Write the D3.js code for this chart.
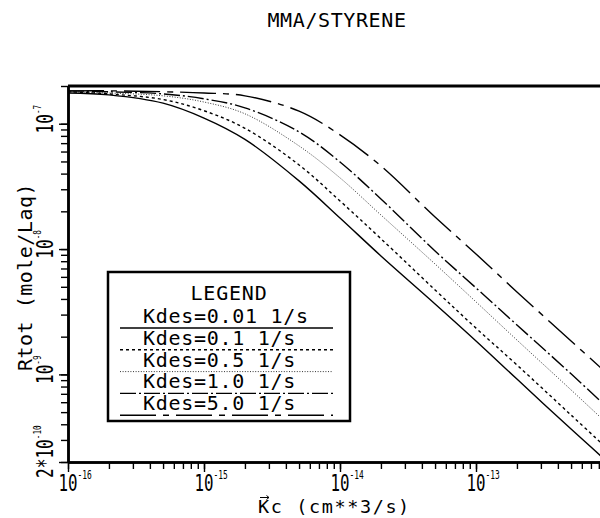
<!DOCTYPE html>
<html>
<head>
<meta charset="utf-8">
<script src="https://cdn.jsdelivr.net/npm/d3@7"></script>
<style>
  body { margin: 0; background: #fff; }
  text { font-family: "DejaVu Sans Mono", monospace; fill: #000; }
</style>
</head>
<body>
<div id="chart"></div>
<script>
// Kc values (cm**3/s) where the curves were read
const kc = [1e-16, 2e-16, 5e-16, 1e-15, 2e-15, 5e-15, 1e-14, 2e-14, 5e-14, 1e-13, 2e-13, 5e-13, 1e-12];

// Rtot (mole/Laq) for each Kdes
const rKdes001 = [1.76e-7, 1.70e-7, 1.46e-7, 1.11e-7, 7.50e-8, 3.50e-8, 1.77e-8, 8.81e-9, 3.65e-9, 1.85e-9, 9.18e-10, 3.66e-10, 1.86e-10];
const rKdes01  = [1.80e-7, 1.73e-7, 1.56e-7, 1.27e-7, 9.20e-8, 4.69e-8, 2.42e-8, 1.21e-8, 4.72e-9, 2.34e-9, 1.19e-9, 4.74e-10, 2.36e-10];
const rKdes05  = [1.80e-7, 1.76e-7, 1.67e-7, 1.49e-7, 1.20e-7, 6.65e-8, 3.70e-8, 1.87e-8, 7.60e-9, 3.79e-9, 1.88e-9, 7.52e-10, 3.73e-10];
const rKdes10  = [1.83e-7, 1.80e-7, 1.73e-7, 1.58e-7, 1.34e-7, 8.61e-8, 4.95e-8, 2.51e-8, 9.66e-9, 4.90e-9, 2.48e-9, 1.01e-9, 5.01e-10];
const rKdes50  = [1.83e-7, 1.83e-7, 1.80e-7, 1.76e-7, 1.67e-7, 1.26e-7, 8.15e-8, 4.60e-8, 1.80e-8, 9.14e-9, 4.55e-9, 1.85e-9, 9.35e-10];

const seriesLabels = ["Kdes=0.01 1/s", "Kdes=0.1 1/s", "Kdes=0.5 1/s", "Kdes=1.0 1/s", "Kdes=5.0 1/s"];

// Tick labels
const xMajor = [1e-16, 1e-15, 1e-14, 1e-13];
const xMajorExp = ["-16", "-15", "-14", "-13"];
const yMajor = [2e-10, 1e-9, 1e-8, 1e-7];
const yMajorBase = ["2*10", "10", "10", "10"];
const yMajorExp = ["-10", "-9", "-8", "-7"];

// Line styles, in the same order as the series
const dashes = [null, "3,3", "1,1.6", "16,3,2,3", "36,7,6,7"];
const widths = [1.4, 1.4, 0.8, 1.4, 1.4];

const W = 600, H = 518;
const plot = { left: 68, right: 612, top: 86, bottom: 462 };

const svg = d3.select("#chart").append("svg")
    .attr("width", W)
    .attr("height", H);

const x = d3.scaleLog().domain([1e-16, 1e-12]).range([plot.left, plot.right]);
const y = d3.scaleLog().domain([2e-10, 2e-7]).range([plot.bottom, plot.top]);

// Title
svg.append("text")
    .attr("x", 337).attr("y", 27)
    .attr("text-anchor", "middle")
    .style("font-size", "20px")
    .style("letter-spacing", "0.6px")
    .text("MMA/STYRENE");

// Clip for the curves
svg.append("clipPath").attr("id", "clip")
  .append("rect")
    .attr("x", plot.left).attr("y", plot.top)
    .attr("width", plot.right - plot.left).attr("height", plot.bottom - plot.top);

const series = [rKdes001, rKdes01, rKdes05, rKdes10, rKdes50];

const line = d3.line()
    .x(d => x(d[0]))
    .y(d => y(d[1]))
    .curve(d3.curveCatmullRom.alpha(0.5));

svg.append("g").attr("clip-path", "url(#clip)")
  .selectAll("path")
  .data(series)
  .enter()
  .append("path")
    .attr("d", s => line(kc.map((k, i) => [k, s[i]])))
    .attr("fill", "none")
    .attr("stroke", "#000")
    .attr("stroke-width", (d, i) => widths[i])
    .attr("stroke-dasharray", (d, i) => dashes[i]);

// X axis: minor then major ticks
const xAxisG = svg.append("g").attr("transform", `translate(0,${plot.bottom})`);
xAxisG.call(d3.axisBottom(x).tickValues(x.ticks()).tickSize(7).tickSizeOuter(0).tickFormat(""));
xAxisG.append("g")
    .call(d3.axisBottom(x).tickValues(xMajor).tickSize(10).tickSizeOuter(0).tickFormat(""));
xAxisG.selectAll("path.domain").attr("stroke-width", 2.5);
xAxisG.selectAll(".tick line").attr("stroke-width", 1.4);

// Y axis
const yAxisG = svg.append("g").attr("transform", `translate(${plot.left},0)`);
yAxisG.call(d3.axisLeft(y).tickValues(y.ticks()).tickSize(7).tickSizeOuter(0).tickFormat(""));
yAxisG.append("g")
    .call(d3.axisLeft(y).tickValues(yMajor).tickSize(9).tickSizeOuter(0).tickFormat(""));
yAxisG.selectAll("path.domain").attr("stroke-width", 2.5);
yAxisG.selectAll(".tick line").attr("stroke-width", 1.4);

// Top border
svg.append("line")
    .attr("x1", plot.left).attr("x2", plot.right)
    .attr("y1", plot.top).attr("y2", plot.top)
    .attr("stroke", "#000").attr("stroke-width", 3);

// Power-of-ten label: base centred, exponent raised after it
function powLabel(g, base, exp, anchorStart, size) {
    const t = g.append("text")
        .attr("x", anchorStart ? 0 : -base.length * 0.6 * size / 2)
        .style("font-size", size + "px");
    t.append("tspan").text(base);
    t.append("tspan").attr("dy", -12).style("font-size", "11px").text(exp);
}

xMajor.forEach((v, i) => {
    const g = svg.append("g").attr("transform", `translate(${x(v)},491) scale(0.72,1.04)`);
    powLabel(g, "10", xMajorExp[i], false, 22);
});

yMajor.forEach((v, i) => {
    const first = i === 0;
    const yy = first ? 478 : y(v);
    const g = svg.append("g").attr("transform", `translate(53,${yy}) rotate(-90) scale(0.7,1)`);
    powLabel(g, yMajorBase[i], yMajorExp[i], first, 23);
});

// Axis titles
svg.append("text")
    .attr("transform", "translate(32,277) rotate(-90)")
    .attr("text-anchor", "middle")
    .style("font-size", "20px")
    .style("letter-spacing", "0.5px")
    .text("Rtot (mole/Laq)");

svg.append("text")
    .attr("x", 258).attr("y", 513)
    .style("font-size", "18.5px")
    .style("letter-spacing", "1.6px")
    .text("Kc (cm**3/s)");

// small vector arrow drawn over the K
svg.append("path")
    .attr("d", "M260,497.5H269M266.5,495.5L269,497.5L266.5,499.5")
    .attr("fill", "none")
    .attr("stroke", "#000")
    .attr("stroke-width", 1);

// Legend
const legend = svg.append("g");
legend.append("rect")
    .attr("x", 108).attr("y", 272)
    .attr("width", 242).attr("height", 149)
    .attr("fill", "#fff")
    .attr("stroke", "#000")
    .attr("stroke-width", 2.5);

legend.append("text")
    .attr("x", 229).attr("y", 300)
    .attr("text-anchor", "middle")
    .style("font-size", "20px")
    .style("letter-spacing", "0.8px")
    .text("LEGEND");

const rows = legend.selectAll("g.row")
    .data(seriesLabels)
    .enter()
    .append("g")
    .attr("class", "row")
    .attr("transform", (d, i) => `translate(0,${i * 21.8})`);

rows.append("line")
    .attr("x1", 120).attr("x2", 333)
    .attr("y1", 328).attr("y2", 328)
    .attr("stroke", "#000")
    .attr("stroke-width", (d, i) => widths[i])
    .attr("stroke-dasharray", (d, i) => dashes[i]);

rows.append("text")
    .attr("x", 143).attr("y", 323)
    .style("font-size", "20px")
    .style("letter-spacing", "0.7px")
    .text(d => d);
</script>
</body>
</html>
